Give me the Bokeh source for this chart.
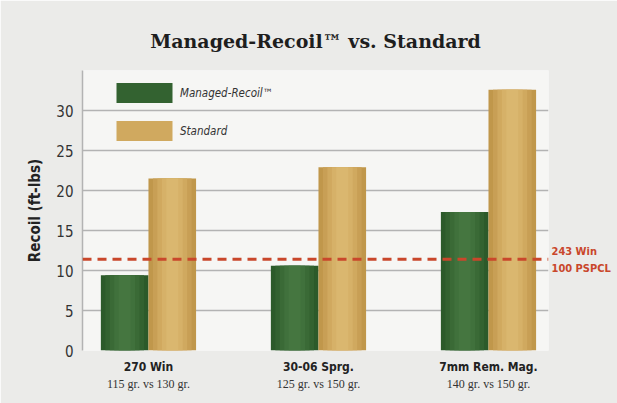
import numpy as np
from bokeh.plotting import figure
from bokeh.models import (Range1d, Span, Legend, LegendItem, FixedTicker,
                          LinearAxis)
from bokeh.embed import file_html
from bokeh.resources import INLINE

# ---- data ----
cartridges = ["270 Win", "30-06 Sprg.", "7mm Rem. Mag."]
bullet_weights = ["115 gr. vs 130 gr.", "125 gr. vs 150 gr.", "140 gr. vs 150 gr."]
managed_recoil = [9.4, 10.6, 17.3]
standard = [21.5, 22.9, 32.6]
reference_level = 11.4
reference_label = ["243 Win", "100 PSPCL"]
series_names = ["Managed-Recoil\u2122", "Standard"]
y_ticks = [0, 5, 10, 15, 20, 25, 30, 35]
title_text = "Managed-Recoil\u2122 vs. Standard"

NARROW = "DejaVu Sans Condensed"
SERIF = "DejaVu Serif"

x = np.arange(len(cartridges))
bar_w = 0.28

p = figure(frame_width=466, frame_height=280, output_backend="svg",
           toolbar_location=None,
           x_range=Range1d(-0.388, 2.353), y_range=Range1d(0, 35),
           min_border_left=82, min_border_right=69, min_border_top=70,
           min_border_bottom=53)

p.background_fill_color = "#f6f6f4"
p.border_fill_color = "#ebebe9"
p.outline_line_color = None

# title
p.title.text = title_text
p.title.align = "center"
p.title.text_font = SERIF
p.title.text_font_style = "bold"
p.title.text_font_size = "19px"
p.title.text_color = "#1e1e1e"
p.title.standoff = 38

# grid
p.xgrid.visible = False
p.ygrid.ticker = FixedTicker(ticks=y_ticks)
p.ygrid.grid_line_color = "#b3b3b3"
p.ygrid.grid_line_width = 1.5

# y axis
p.yaxis.ticker = FixedTicker(ticks=y_ticks)
p.yaxis.major_label_overrides = {35: ""}
p.yaxis.major_tick_line_color = None
p.yaxis.minor_tick_line_color = None
p.yaxis.major_tick_out = 0
p.yaxis.major_tick_in = 0
p.yaxis.axis_line_color = "#b3b3b3"
p.yaxis.axis_line_width = 1.5
p.yaxis.major_label_standoff = 9
p.yaxis.major_label_text_font = NARROW
p.yaxis.major_label_text_font_size = "15px"
p.yaxis.major_label_text_color = "#333333"
p.yaxis.axis_label = "Recoil (ft-lbs)"
p.yaxis.axis_label_text_font = NARROW
p.yaxis.axis_label_text_font_style = "bold"
p.yaxis.axis_label_text_font_size = "15px"
p.yaxis.axis_label_text_color = "#222222"
p.yaxis.axis_label_standoff = 9


def style_plain_axis(ax):
    ax.axis_line_color = None
    ax.major_tick_line_color = None
    ax.minor_tick_line_color = None
    ax.major_tick_in = 0
    ax.major_tick_out = 0


# x axes: cartridge names (bold) and bullet weights (regular)
p.xaxis.ticker = FixedTicker(ticks=list(x))
p.xaxis.major_label_overrides = {int(i): n for i, n in zip(x, cartridges)}
style_plain_axis(p.xaxis[0])
p.xaxis.major_label_standoff = 9
p.xaxis.major_label_text_font = NARROW
p.xaxis.major_label_text_font_style = "bold"
p.xaxis.major_label_text_font_size = "12px"
p.xaxis.major_label_text_color = "#222222"

x2 = LinearAxis(ticker=FixedTicker(ticks=list(x)),
                major_label_overrides={int(i): w for i, w in zip(x, bullet_weights)})
style_plain_axis(x2)
x2.major_label_standoff = 0
x2.major_label_text_font = "Liberation Serif"
x2.major_label_text_font_size = "12px"
x2.major_label_text_color = "#333333"
p.add_layout(x2, "below")

# right axis for the reference-line label
ref_ticks = [reference_level + 1.0, reference_level - 1.15]
ry = LinearAxis(ticker=FixedTicker(ticks=ref_ticks),
                major_label_overrides={t: s for t, s in zip(ref_ticks, reference_label)})
style_plain_axis(ry)
ry.major_label_standoff = 3
ry.major_label_text_font = NARROW
ry.major_label_text_font_style = "bold"
ry.major_label_text_font_size = "11px"
ry.major_label_text_color = "#c9472b"
p.add_layout(ry, "right")

green_shades = ["#2c5a2a", "#336230", "#3a6a36", "#40713c", "#457640"]
gold_shades = ["#c0974b", "#c89f55", "#d0a95f", "#d6b168", "#dab76f"]


def shaded_bars(xs, tops, shades):
    fracs = np.linspace(1.0, 0.25, len(shades))
    rs = []
    for f, c in zip(fracs, shades):
        rs.append(p.vbar(x=xs, top=tops, width=bar_w * f, bottom=0,
                         fill_color=c, line_color=None))
    return rs


g_rs = shaded_bars(x - bar_w / 2, managed_recoil, green_shades)
s_rs = shaded_bars(x + bar_w / 2, standard, gold_shades)

# reference line
p.add_layout(Span(location=reference_level, dimension="width",
                  line_color="#c9472b", line_width=3, line_dash="9 6"))

# legend (Bokeh insets area swatches by 10% on each side)
legend = Legend(items=[LegendItem(label=series_names[0], renderers=[g_rs[1]]),
                       LegendItem(label=series_names[1], renderers=[s_rs[2]])],
                location=(27, 207), glyph_width=70, glyph_height=25,
                spacing=13, padding=0, margin=0, label_standoff=1,
                background_fill_alpha=0, border_line_color=None,
                label_text_font=NARROW, label_text_font_style="italic",
                label_text_font_size="11.5px", label_text_color="#333333")
p.add_layout(legend)

open("out.html", "w").write(file_html(p, INLINE))
